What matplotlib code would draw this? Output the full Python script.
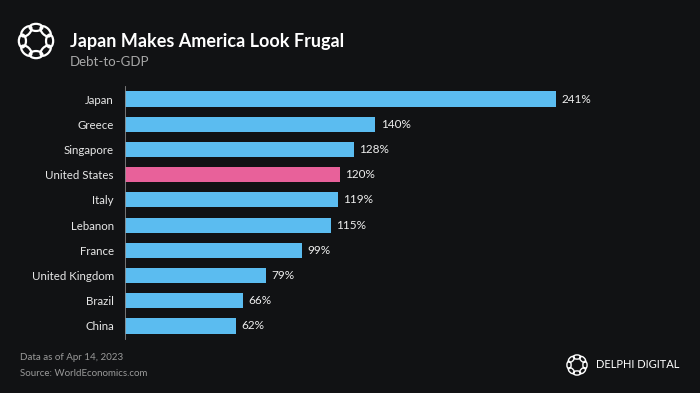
import matplotlib
matplotlib.use("Agg")
import matplotlib.pyplot as plt
from matplotlib.patches import Ellipse
import numpy as np

countries = ["Japan", "Greece", "Singapore", "United States", "Italy",
             "Lebanon", "France", "United Kingdom", "Brazil", "China"]
values = [241, 140, 128, 120, 119, 115, 99, 79, 66, 62]
highlight = "United States"

BG = "#111214"
BLUE = "#5bbcf0"
PINK = "#e8619a"
FONT = "Lato"

W, H = 700, 393
fig = plt.figure(figsize=(W/100, H/100), dpi=100, facecolor=BG)

ax = fig.add_axes([125/W, 1-338.6/H, 505/W, 252.2/H], facecolor=BG)
y = np.arange(len(countries))
colors = [PINK if c == highlight else BLUE for c in countries]
ax.barh(y, values, height=0.6, color=colors)
ax.set_ylim(len(countries)-0.5, -0.5)
ax.set_xlim(0, 241*505/431)
ax.set_yticks(y)
ax.set_yticklabels(countries, color="#e8e8e8", fontsize=8.3, family=FONT)
ax.tick_params(axis="y", length=0, pad=8)
ax.set_xticks([])
for s in ["top", "right", "bottom"]:
    ax.spines[s].set_visible(False)
ax.spines["left"].set_color("#888888")
ax.spines["left"].set_linewidth(0.6)
for yi, v in zip(y, values):
    ax.annotate(f"{v}%", (v, yi), xytext=(4, 0), textcoords="offset points",
                va="center", ha="left", color="#eeeeee", fontsize=8.5, family=FONT)

def logo(cx, cy, r, lw):
    lax = fig.add_axes([(cx-r*1.5)/W, 1-(cy+r*1.5)/H, 3*r/W, 3*r/H])
    lax.set_xlim(-1.5, 1.5); lax.set_ylim(-1.5, 1.5); lax.axis("off")
    for k in range(8):
        a = 2*np.pi*k/8
        e = Ellipse((np.cos(a)*0.8, np.sin(a)*0.8), 0.75, 0.42, angle=np.degrees(a)+90,
                    fill=False, ec="white", lw=lw)
        lax.add_patch(e)

logo(36, 41, 17, 1.6)
fig.text(70/W, 1-41/H, "Japan Makes America Look Frugal", color="white",
         fontsize=13, fontweight="bold", family=FONT, va="center")
fig.text(70/W, 1-62/H, "Debt-to-GDP", color="#a8a8a8", fontsize=9.5,
         family=FONT, va="center")
fig.text(20/W, 1-357/H, "Data as of Apr 14, 2023", color="#9a9a9a", fontsize=7,
         family=FONT, va="center")
fig.text(20/W, 1-373/H, "Source: WorldEconomics.com", color="#9a9a9a", fontsize=7,
         family=FONT, va="center")
logo(577, 365, 10, 1.0)
fig.text(596/W, 1-365/H, "DELPHI DIGITAL", color="white", fontsize=8,
         family=FONT, va="center")

fig.savefig("out.png", dpi=100, facecolor=BG)
